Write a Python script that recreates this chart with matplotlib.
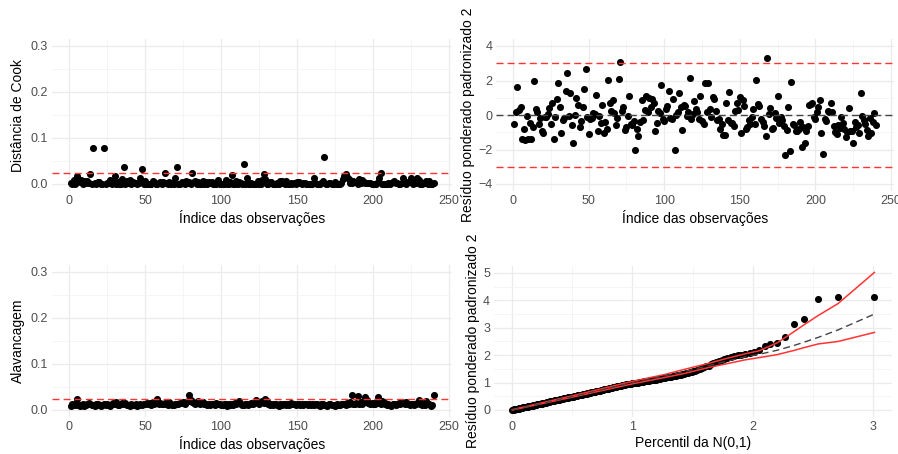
import matplotlib.pyplot as plt
import numpy as np
from statistics import NormalDist

plt.rcParams['font.family'] = ['Liberation Sans', 'DejaVu Sans']

# residuos ponderados padronizados (painel superior direito), obs 1..240
residuo = [
    -0.54, 0.20, 1.63, 0.27, 0.46, -1.40, -0.83, -1.44, -0.06, -1.40, -0.44, -1.37, -0.67, 2.00, 0.37, 0.17, -0.54, -0.15, -0.92, -1.02,
    -0.10, -0.12, 0.08, 0.40, -0.54, 0.67, -1.42, -0.13, 0.94, 1.87, 0.46, -1.04, -0.30, -0.20, 1.42, 2.42, -0.05, 1.27, -0.56, -1.65,
    0.00, 0.96, 0.56, -0.67, -0.35, 0.48, 1.52, 2.65, -0.10, -1.13, -0.25, -0.15, 0.13, 0.05, 1.15, -0.92, -0.08, -0.45, 0.60, -1.04,
    -0.40, -0.83, 2.02, 0.67, 0.23, 0.87, 0.10, -0.56, -0.20, 2.10, 3.10, 0.25, 0.46, -0.87, -0.70, -0.08, 1.08, -0.52, -0.60, -0.35,
    -2.02, -0.83, -1.21, -0.40, 0.85, -0.30, 0.29, 1.13, 0.20, 1.00, 0.48, 0.90, 0.71, -0.92, -0.45, 0.23, 0.10, 1.73, -0.25, -0.35,
    0.33, 0.55, 1.38, -0.17, -0.25, 0.94, -2.04, -0.02, 0.20, 1.29, 0.45, -0.88, 0.60, 0.50, -0.04, 0.15, 2.17, -0.25, 0.05, 0.79,
    0.33, 0.20, -0.25, 1.12, -0.35, -0.54, 1.83, 0.15, 1.83, 0.37, -0.10, 1.06, 0.95, 0.23, -0.30, -0.25, -0.83, -0.50, -1.17, -1.17,
    0.67, -0.30, 1.33, -0.45, -0.44, -0.63, 0.25, 0.71, 0.30, 1.06, -1.06, 0.85, 0.52, -0.80, -0.67, -0.29, -0.55, -0.10, 0.33, -0.55,
    2.02, 0.62, 0.55, -0.25, -0.40, -0.63, -1.21, 3.30, 0.05, 0.42, -0.83, -0.75, 0.10, -0.20, 1.10, -0.45, -0.10, -0.30, -0.63, -2.33,
    -0.88, 0.46, -2.08, 1.94, -0.54, -0.60, -0.95, -0.90, -0.83, -0.40, -1.88, -0.70, -1.60, -0.95, -0.63, 0.56, 0.65, 0.67, -0.12, -0.25,
    0.17, 0.45, 0.87, -1.04, -2.27, -0.21, -0.35, 0.23, 0.20, 0.71, 0.20, -0.63, -1.00, -1.10, -0.60, -0.75, -0.10, -0.45, -0.79, -1.25,
    -1.00, 0.42, -0.90, -0.92, -1.63, -0.40, -0.70, -0.60, -1.05, 1.29, -0.06, -0.30, -0.54, -0.85, -1.21, -0.20, -1.02, -0.40, 0.10, -0.60,
]

# distancia de Cook
cook = [
    0.002, 0.001, 0.009, 0.001, 0.017, 0.008, 0.004, 0.009, 0.000, 0.007, 0.002, 0.007, 0.003, 0.022, 0.001, 0.078, 0.003, 0.001, 0.004, 0.005,
    0.000, 0.001, 0.078, 0.001, 0.003, 0.003, 0.008, 0.000, 0.004, 0.017, 0.001, 0.005, 0.001, 0.000, 0.010, 0.037, 0.000, 0.006, 0.002, 0.009,
    0.000, 0.004, 0.002, 0.003, 0.001, 0.002, 0.012, 0.033, 0.000, 0.006, 0.001, 0.000, 0.000, 0.000, 0.006, 0.004, 0.000, 0.001, 0.002, 0.005,
    0.001, 0.004, 0.025, 0.003, 0.000, 0.004, 0.000, 0.002, 0.000, 0.012, 0.038, 0.001, 0.001, 0.004, 0.002, 0.000, 0.006, 0.002, 0.004, 0.001,
    0.023, 0.004, 0.007, 0.001, 0.004, 0.001, 0.001, 0.006, 0.000, 0.005, 0.001, 0.004, 0.002, 0.004, 0.001, 0.000, 0.000, 0.009, 0.000, 0.001,
    0.001, 0.001, 0.008, 0.000, 0.000, 0.004, 0.020, 0.000, 0.000, 0.007, 0.001, 0.004, 0.002, 0.001, 0.044, 0.000, 0.013, 0.000, 0.000, 0.003,
    0.001, 0.000, 0.000, 0.006, 0.001, 0.001, 0.009, 0.022, 0.010, 0.001, 0.000, 0.005, 0.004, 0.000, 0.000, 0.000, 0.003, 0.001, 0.006, 0.006,
    0.002, 0.000, 0.007, 0.001, 0.001, 0.002, 0.000, 0.002, 0.000, 0.005, 0.005, 0.003, 0.001, 0.003, 0.002, 0.000, 0.001, 0.000, 0.001, 0.001,
    0.012, 0.002, 0.001, 0.000, 0.001, 0.002, 0.006, 0.058, 0.000, 0.001, 0.003, 0.002, 0.000, 0.000, 0.005, 0.001, 0.000, 0.000, 0.002, 0.010,
    0.017, 0.022, 0.015, 0.010, 0.003, 0.003, 0.006, 0.005, 0.004, 0.001, 0.010, 0.002, 0.008, 0.004, 0.002, 0.003, 0.002, 0.002, 0.000, 0.000,
    0.000, 0.001, 0.004, 0.012, 0.025, 0.000, 0.001, 0.000, 0.000, 0.003, 0.000, 0.002, 0.005, 0.006, 0.002, 0.003, 0.000, 0.001, 0.003, 0.012,
    0.005, 0.001, 0.004, 0.004, 0.012, 0.001, 0.002, 0.002, 0.012, 0.008, 0.000, 0.001, 0.002, 0.003, 0.007, 0.000, 0.006, 0.001, 0.001, 0.002,
]

# alavancagem (diagonal da matriz H)
alavancagem = [
    0.009, 0.012, 0.014, 0.010, 0.024, 0.011, 0.009, 0.010, 0.012, 0.008, 0.011, 0.013, 0.016, 0.012, 0.010, 0.011, 0.009, 0.012, 0.014, 0.010,
    0.009, 0.011, 0.013, 0.010, 0.012, 0.011, 0.009, 0.013, 0.015, 0.012, 0.018, 0.011, 0.010, 0.014, 0.016, 0.012, 0.015, 0.010, 0.011, 0.009,
    0.012, 0.010, 0.011, 0.013, 0.009, 0.010, 0.012, 0.011, 0.014, 0.013, 0.015, 0.012, 0.016, 0.011, 0.018, 0.014, 0.019, 0.023, 0.013, 0.015,
    0.012, 0.014, 0.016, 0.013, 0.011, 0.017, 0.012, 0.010, 0.011, 0.013, 0.012, 0.014, 0.016, 0.015, 0.018, 0.013, 0.017, 0.020, 0.032, 0.021,
    0.018, 0.016, 0.014, 0.017, 0.019, 0.013, 0.015, 0.018, 0.012, 0.014, 0.011, 0.013, 0.010, 0.012, 0.014, 0.011, 0.015, 0.013, 0.012, 0.010,
    0.011, 0.013, 0.012, 0.009, 0.014, 0.011, 0.013, 0.010, 0.015, 0.012, 0.017, 0.019, 0.013, 0.011, 0.010, 0.012, 0.014, 0.011, 0.013, 0.015,
    0.012, 0.016, 0.021, 0.018, 0.014, 0.017, 0.019, 0.015, 0.024, 0.020, 0.013, 0.011, 0.012, 0.010, 0.014, 0.012, 0.011, 0.009, 0.013, 0.010,
    0.012, 0.014, 0.011, 0.013, 0.010, 0.015, 0.012, 0.013, 0.011, 0.014, 0.012, 0.010, 0.013, 0.011, 0.012, 0.014, 0.010, 0.012, 0.011, 0.013,
    0.010, 0.012, 0.014, 0.011, 0.009, 0.012, 0.013, 0.010, 0.011, 0.009, 0.012, 0.014, 0.010, 0.011, 0.009, 0.012, 0.010, 0.011, 0.013, 0.012,
    0.014, 0.011, 0.016, 0.013, 0.018, 0.032, 0.014, 0.012, 0.015, 0.031, 0.013, 0.017, 0.014, 0.020, 0.028, 0.022, 0.015, 0.013, 0.016, 0.012,
    0.014, 0.017, 0.028, 0.015, 0.013, 0.020, 0.018, 0.012, 0.010, 0.013, 0.011, 0.009, 0.012, 0.014, 0.011, 0.013, 0.016, 0.012, 0.018, 0.015,
    0.013, 0.017, 0.012, 0.011, 0.014, 0.012, 0.010, 0.013, 0.015, 0.021, 0.012, 0.011, 0.013, 0.010, 0.019, 0.012, 0.014, 0.009, 0.011, 0.032,
]

# residuos absolutos ordenados (grafico meio-normal)
residuo_ord = [
    0.00, 0.01, 0.01, 0.02, 0.02, 0.03, 0.03, 0.04, 0.04, 0.05, 0.05, 0.06, 0.06, 0.07, 0.07, 0.08, 0.08, 0.09, 0.09, 0.10, 0.10, 0.11, 0.11, 0.12,
    0.12, 0.13, 0.13, 0.14, 0.14, 0.15, 0.15, 0.16, 0.16, 0.17, 0.17, 0.18, 0.18, 0.19, 0.19, 0.20, 0.20, 0.21, 0.21, 0.22, 0.22, 0.23, 0.23, 0.24,
    0.25, 0.25, 0.26, 0.26, 0.27, 0.27, 0.28, 0.29, 0.29, 0.30, 0.30, 0.31, 0.31, 0.32, 0.32, 0.33, 0.33, 0.34, 0.35, 0.35, 0.36, 0.36, 0.37, 0.37,
    0.38, 0.38, 0.39, 0.39, 0.40, 0.41, 0.41, 0.42, 0.42, 0.43, 0.44, 0.44, 0.45, 0.45, 0.46, 0.46, 0.47, 0.47, 0.48, 0.48, 0.49, 0.49, 0.50, 0.50,
    0.51, 0.51, 0.52, 0.53, 0.53, 0.54, 0.54, 0.55, 0.56, 0.56, 0.57, 0.58, 0.58, 0.59, 0.59, 0.60, 0.61, 0.61, 0.62, 0.63, 0.63, 0.64, 0.64, 0.65,
    0.66, 0.66, 0.67, 0.68, 0.68, 0.69, 0.70, 0.71, 0.71, 0.72, 0.73, 0.73, 0.74, 0.75, 0.75, 0.76, 0.77, 0.78, 0.78, 0.79, 0.80, 0.80, 0.81, 0.82,
    0.83, 0.83, 0.84, 0.85, 0.86, 0.86, 0.87, 0.88, 0.89, 0.90, 0.90, 0.91, 0.92, 0.93, 0.93, 0.94, 0.95, 0.95, 0.96, 0.97, 0.97, 0.98, 0.99, 0.99,
    1.00, 1.00, 1.01, 1.02, 1.03, 1.03, 1.04, 1.05, 1.05, 1.06, 1.07, 1.08, 1.08, 1.09, 1.10, 1.11, 1.11, 1.12, 1.13, 1.14, 1.15, 1.16, 1.17, 1.18,
    1.19, 1.20, 1.21, 1.22, 1.23, 1.24, 1.25, 1.27, 1.28, 1.29, 1.31, 1.32, 1.34, 1.36, 1.38, 1.40, 1.42, 1.44, 1.47, 1.50, 1.53, 1.56, 1.59, 1.62,
    1.66, 1.70, 1.74, 1.78, 1.83, 1.86, 1.90, 1.93, 1.97, 1.99, 2.01, 2.03, 2.08, 2.12, 2.18, 2.32,
    2.40, 2.44, 2.68, 3.14, 3.33, 4.06, 4.11, 4.12,
]

# envelope simulado, nas posicoes (ordem) abaixo
env_ordem = [1, 93, 164, 192, 204, 216, 222, 228, 231, 234, 236, 237, 238, 239, 240]
env_inf = [0.00, 0.47, 0.95, 1.19, 1.33, 1.55, 1.67, 1.83, 1.91, 2.02, 2.17, 2.28, 2.41, 2.50, 2.83]
env_med = [0.00, 0.49, 0.99, 1.25, 1.40, 1.62, 1.76, 1.94, 2.03, 2.18, 2.35, 2.48, 2.65, 2.92, 3.50]
env_sup = [0.01, 0.52, 1.04, 1.30, 1.48, 1.70, 1.86, 2.05, 2.16, 2.45, 2.85, 3.12, 3.45, 3.88, 5.02]

limite_h = 0.025
n = len(residuo)
idx = np.arange(1, n + 1)

# quantis meio-normais
nd = NormalDist()
def q_meio_normal(i):
    return nd.inv_cdf((i + n - 1 / 8) / (2 * n + 1 / 2))
x_qq = [q_meio_normal(i) for i in idx]
x_env = [q_meio_normal(i) for i in env_ordem]

W, H = 898, 454
fig = plt.figure(figsize=(W / 100, H / 100), dpi=100)

def eixo(l, t, r, b):
    return fig.add_axes([l / W, 1 - b / H, (r - l) / W, (b - t) / H])

def estilo(ax, xmaj, xmin, ymaj, ymin):
    ax.set_xticks(xmaj)
    ax.set_xticks(xmin, minor=True)
    ax.set_yticks(ymaj)
    ax.set_yticks(ymin, minor=True)
    ax.grid(which='major', color='#ebebeb', lw=0.9)
    ax.grid(which='minor', color='#f4f4f4', lw=0.6)
    ax.set_axisbelow(True)
    for s in ax.spines.values():
        s.set_visible(False)
    ax.tick_params(which='both', length=0, labelsize=9, labelcolor='#4d4d4d', pad=3)

pts = dict(s=26, color='black', linewidths=0)
tracejado = (0, (5, 3))
vermelho = '#ff3333'
xl = (-10.95, 251.95)
xmaj = [0, 50, 100, 150, 200, 250]
xmin = [25, 75, 125, 175, 225]
fs = 10

# Cook
ax1 = eixo(52.4, 39.1, 452, 190.9)
ax1.scatter(idx, cook, **pts)
ax1.axhline(limite_h, color=vermelho, ls=tracejado, lw=1)
ax1.set_xlim(*xl)
ax1.set_ylim(-0.015, 0.315)
estilo(ax1, xmaj, xmin, [0, 0.1, 0.2, 0.3], [0.05, 0.15, 0.25])
ax1.set_xlabel('Índice das observações', fontsize=fs, labelpad=2)
ax1.set_ylabel('Distância de Cook', fontsize=fs, labelpad=4)

# alavancagem
ax3 = eixo(52.4, 265.1, 452, 416.9)
ax3.scatter(idx, alavancagem, **pts)
ax3.axhline(limite_h, color=vermelho, ls=tracejado, lw=1)
ax3.set_xlim(*xl)
ax3.set_ylim(-0.015, 0.315)
estilo(ax3, xmaj, xmin, [0, 0.1, 0.2, 0.3], [0.05, 0.15, 0.25])
ax3.set_xlabel('Índice das observações', fontsize=fs, labelpad=2)
ax3.set_ylabel('Alavancagem', fontsize=fs, labelpad=4)

# residuos
ax2 = eixo(496.4, 39.1, 894, 190.9)
ax2.scatter(idx, residuo, **pts)
for v in (-3, 3):
    ax2.axhline(v, color=vermelho, ls=tracejado, lw=1)
ax2.axhline(0, color='#444444', ls=tracejado, lw=1)
ax2.set_xlim(*xl)
ax2.set_ylim(-4.4, 4.4)
estilo(ax2, xmaj, xmin, [-4, -2, 0, 2, 4], [-3, -1, 1, 3])
ax2.set_xlabel('Índice das observações', fontsize=fs, labelpad=2)
ax2.set_ylabel('Resíduo ponderado padronizado 2', fontsize=fs, labelpad=2)

# meio-normal com envelope
ax4 = eixo(494.2, 265.6, 892.3, 416.8)
ax4.scatter(x_qq, residuo_ord, **pts)
ax4.plot(x_env, env_inf, color=vermelho, lw=1.1)
ax4.plot(x_env, env_sup, color=vermelho, lw=1.1)
ax4.plot(x_env, env_med, color='#444444', ls=tracejado, lw=1)
ax4.set_xlim(-0.148, 3.16)
ax4.set_ylim(-0.25, 5.27)
estilo(ax4, [0, 1, 2, 3], [0.5, 1.5, 2.5], [0, 1, 2, 3, 4, 5], [0.5, 1.5, 2.5, 3.5, 4.5])
ax4.set_xlabel('Percentil da N(0,1)', fontsize=fs, labelpad=2)
ax4.set_ylabel('Resíduo ponderado padronizado 2', fontsize=fs, labelpad=2)

fig.savefig('out.png', dpi=100, facecolor='white')
